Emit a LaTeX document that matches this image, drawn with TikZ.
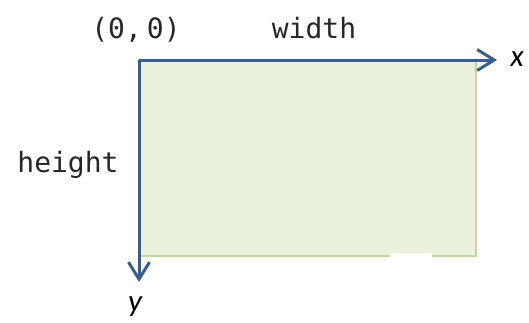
\documentclass[tikz,border=0pt]{standalone}
\usepackage{fontspec}
\setmonofont{DejaVu Sans Mono}
\newfontfamily\labfont{Carlito}
\usetikzlibrary{arrows.meta}
\definecolor{axisblue}{HTML}{385D8A}
\definecolor{boxfill}{HTML}{EAF1DD}
\definecolor{boxline}{HTML}{C3D69B}
\tikzset{
  monotext/.style={font=\ttfamily\fontsize{28}{30}\selectfont, text=black!85, inner sep=0pt},
  axislabel/.style={font=\labfont\itshape\fontsize{31}{34}\selectfont, text=black, inner sep=0pt},
  axisline/.style={draw=axisblue, line width=3pt, -{Straight Barb[length=17pt,width=21pt,line width=3pt]}},
  canvasbox/.style={draw=boxline, fill=boxfill, line width=1.5pt}
}
\begin{document}
\begin{tikzpicture}[x=1pt,y=1pt]
\useasboundingbox (0,0) rectangle (529,322);
% canvas rectangle
\draw[canvasbox] (139,66) rectangle (476,262);
% white notch on the bottom edge
\fill[white, rounded corners=2pt] (390,64) rectangle (432,69);
\fill[white] (390,64) rectangle (432,66.5);
% axes
\coordinate (origin) at (139,262);
\coordinate (xend) at (497,262);
\coordinate (yend) at (139,40);
\draw[axisline] (origin) -- (xend);
\draw[axisline] (origin) -- (yend);
% labels
\node[monotext, anchor=base] (orig) at (136,283) {(0,\hspace{5pt}0)};
\node[monotext, anchor=base] (wid) at (314,283) {width};
\node[monotext, anchor=base] (hei) at (68,150) {height};
\node[axislabel] (xl) at (517,263) {x};
\node[axislabel] (yl) at (135,15) {y};
\end{tikzpicture}
\end{document}
